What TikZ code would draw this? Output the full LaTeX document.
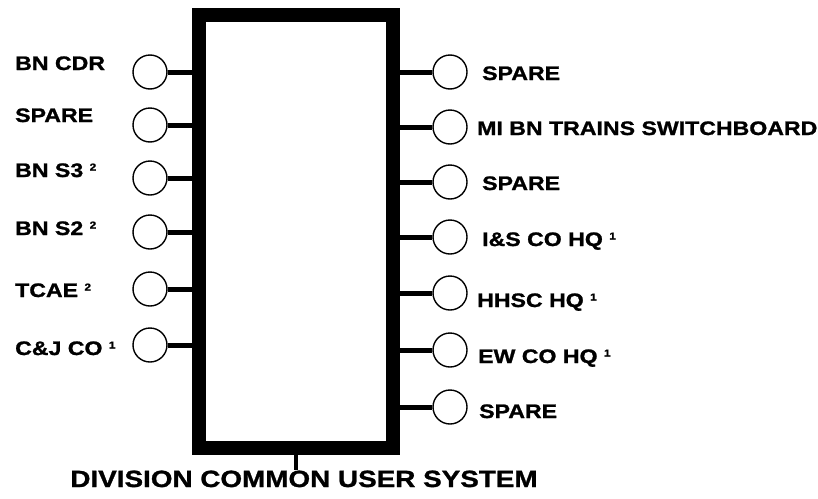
\documentclass[tikz,border=0pt]{standalone}
\usepackage{fontspec}
\setmainfont{Liberation Sans}[FakeStretch=1.185,BoldFeatures={FakeBold=1.2}]

\newcommand*{\fnote}[1]{\raisebox{6.5pt}{\fontsize{10}{10}\selectfont #1}}

\begin{document}
\begin{tikzpicture}
[
	x=1pt,y=-1pt,
	port/.style={circle,draw,line width=1.4pt,inner sep=0pt,minimum size=34pt},
	lead/.style={line width=5pt},
	lbl/.style={font=\fontsize{19.5}{19.5}\selectfont\bfseries,inner sep=0pt,anchor=base west}
]
	\useasboundingbox (0,0) rectangle (818,498);

	% switchboard
	\node[draw,line width=14pt,inner sep=0pt,minimum width=194pt,minimum height=433pt] (cus) at (296,231.5) {};
	\node[font=\fontsize{23.5}{23.5}\selectfont\bfseries,inner sep=0pt,anchor=base] (title) at (304,487) {DIVISION COMMON USER SYSTEM};
	\draw[line width=4pt] (cus.south) -- (cus.south |- title.north);

	% left ports
	\foreach \y/\n in {72/1,125/2,178/3,232/4,289/5,345/6}
		\node[port] (l\n) at (150,\y) {};
	\foreach \n in {1,...,6}
		\draw[lead] (l\n.east) -- (l\n.east -| cus.west);

	\node[lbl] (tl1) at (15,70) {BN CDR};
	\node[lbl] (tl2) at (15,122) {SPARE};
	\node[lbl] (tl3) at (15,177) {BN S3 \fnote{2}};
	\node[lbl] (tl4) at (15,235) {BN S2 \fnote{2}};
	\node[lbl] (tl5) at (15,297) {TCAE \fnote{2}};
	\node[lbl] (tl6) at (15,355) {C\&J CO \fnote{1}};

	% right ports
	\foreach \y/\n in {72/1,127/2,182/3,237/4,293/5,350/6,407/7}
		\node[port] (r\n) at (450,\y) {};
	\foreach \n in {1,...,7}
		\draw[lead] (r\n.west) -- (r\n.west -| cus.east);

	\node[lbl] (tr1) at (482,80) {SPARE};
	\node[lbl] (tr2) at (477,135) {MI BN TRAINS SWITCHBOARD};
	\node[lbl] (tr3) at (482,190) {SPARE};
	\node[lbl] (tr4) at (482,246) {I\&S CO HQ \fnote{1}};
	\node[lbl] (tr5) at (477,307) {HHSC HQ \fnote{1}};
	\node[lbl] (tr6) at (478,363) {EW CO HQ \fnote{1}};
	\node[lbl] (tr7) at (479,418) {SPARE};

\end{tikzpicture}
\end{document}
